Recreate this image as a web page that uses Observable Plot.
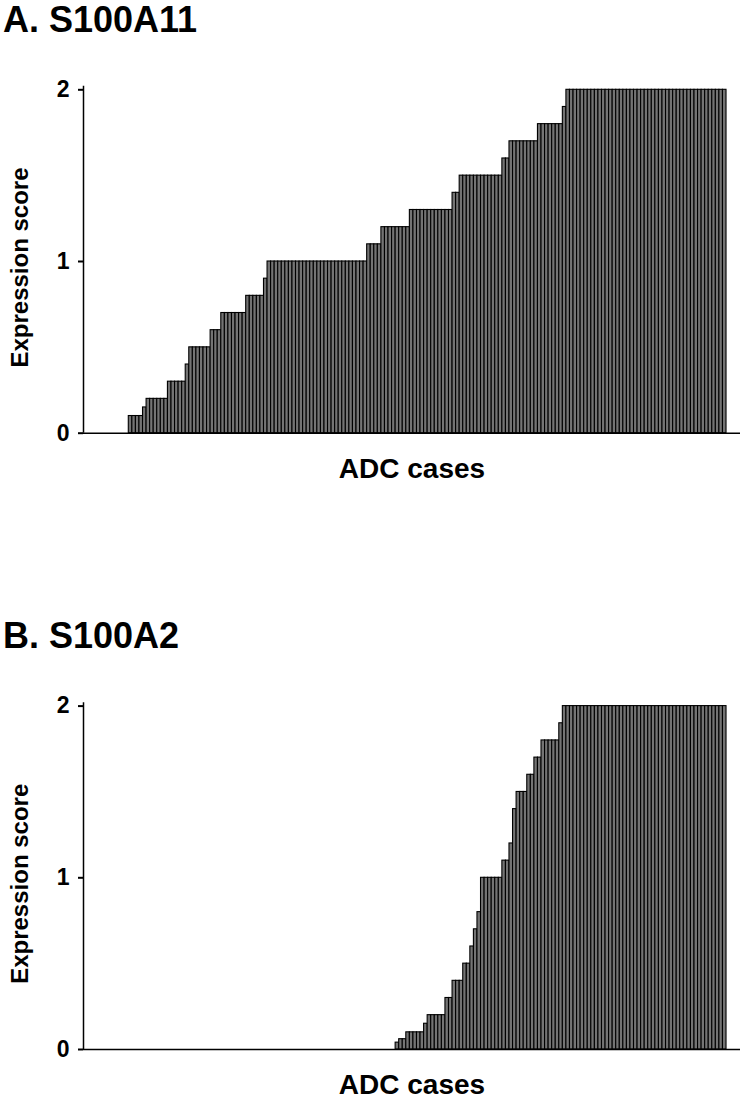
<!DOCTYPE html>
<html><head><meta charset="utf-8">
<script src="https://cdn.jsdelivr.net/npm/d3@7"></script>
<script src="https://cdn.jsdelivr.net/npm/@observablehq/plot@0.6"></script>
<style>
html,body{margin:0;padding:0;background:#fff;overflow:hidden;}
body{font-family:"Liberation Sans",Arial,Helvetica,sans-serif;width:744px;height:1100px;}
.title{height:50px;font-weight:bold;font-size:36px;line-height:40px;padding-left:3px;color:#000;white-space:nowrap;}
svg{display:block;}
</style></head><body>
<div id="root"></div>
<script>
// Panel titles and axis texts
const panelTitles = ["A. S100A11", "B. S100A2"];
const yAxisLabel = "Expression score";
const xAxisLabel = "ADC cases";
const yTicks = [0, 1, 2];

// Panel A (S100A11): expression score levels (sorted) and number of ADC cases at each level
const scoresA = [0.1, 0.15, 0.2, 0.3, 0.4, 0.5, 0.6, 0.7, 0.8, 0.9, 1.0, 1.1, 1.2, 1.3, 1.4, 1.5, 1.6, 1.7, 1.8, 1.9, 2.0];
const casesA  = [4,   1,    6,   5,   1,   6,   3,   7,   5,   1,   28,  4,   8,   12,  2,   12,  2,   8,   7,   1,   45];

// Panel B (S100A2)
const scoresB = [0,  0.04, 0.06, 0.1, 0.15, 0.2, 0.3, 0.4, 0.5, 0.6, 0.7, 0.8, 1.0, 1.1, 1.2, 1.4, 1.5, 1.6, 1.7, 1.8, 1.9, 2.0];
const casesB  = [75, 1,    2,    5,   1,    5,   2,   3,   2,   1,   1,   1,   6,   2,   1,   1,   3,   2,   2,   5,   1,   46];

function expand(scores, counts) {
  const out = [];
  scores.forEach((s, k) => { for (let j = 0; j < counts[k]; j++) out.push({i: out.length, v: s}); });
  return out;
}

const xDomain = [-12.73, 171.93];

function panel(data, title, marginTop, height, marginBottom) {
  const t = document.createElement("div");
  t.className = "title";
  t.textContent = title;
  document.getElementById("root").appendChild(t);
  const chart = Plot.plot({
    width: 744,
    height: height,
    marginLeft: 83,
    marginRight: 4,
    marginTop: marginTop,
    marginBottom: marginBottom,
    style: {fontFamily: "'Liberation Sans', Arial, sans-serif", color: "#000", background: "#fff"},
    x: {domain: xDomain, axis: null},
    y: {domain: [0, 2], axis: null},
    marks: [
      Plot.rectY(data, {x1: "i", x2: d => d.i + 1, y: "v", fill: "#747474", stroke: "#000", strokeWidth: 1.1}),
      Plot.ruleY([0], {stroke: "#000", strokeWidth: 1.5}),
      Plot.ruleX([xDomain[0]], {y1: 0, y2: 2.02, stroke: "#000", strokeWidth: 1.5}),
      Plot.axisY(yTicks, {anchor: "left", tickSize: 5, tickPadding: 9, tickFormat: d => String(d), fontSize: 23, fontWeight: "bold", strokeWidth: 2, label: null}),
      Plot.text([yAxisLabel], {frameAnchor: "left", textAnchor: "middle", lineAnchor: "middle", rotate: -90, dx: -63, dy: 6, fontSize: 24, fontWeight: "bold", fill: "#000"}),
      Plot.text([xAxisLabel], {frameAnchor: "bottom", lineAnchor: "middle", dy: 36, fontSize: 28, fontWeight: "bold", fill: "#000"})
    ]
  });
  document.getElementById("root").appendChild(chart);
}

panel(expand(scoresA, casesA), panelTitles[0], 39.3, 566, 183.3);
panel(expand(scoresB, casesB), panelTitles[1], 39.6, 434, 51);
</script>
</body></html>
